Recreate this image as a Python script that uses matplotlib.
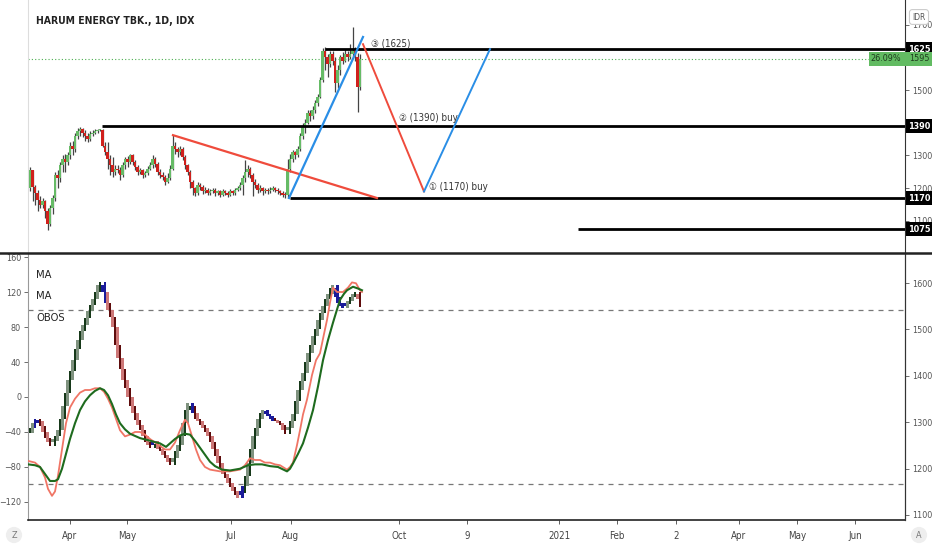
import numpy as np
import matplotlib
matplotlib.use('Agg')
import matplotlib.pyplot as plt
import matplotlib.transforms as mtransforms
from matplotlib.patches import Rectangle
from matplotlib.lines import Line2D

plt.rcParams['font.family'] = ['Liberation Sans Narrow', 'DejaVu Sans']
plt.rcParams['font.stretch'] = 'condensed'

# ---- price candles (bar index 0..132, daily, mid Mar -> mid Sep 2020)
opens = [1200,1255,1205,1185,1165,1150,1160,1130,1090,1140,
         1170,1240,1230,1270,1290,1280,1300,1330,1320,1360,
         1375,1380,1370,1360,1350,1365,1370,1375,1378,1378,
         1330,1310,1290,1270,1250,1260,1255,1240,1270,1290,
         1280,1300,1280,1265,1250,1255,1240,1245,1260,1270,
         1290,1275,1250,1240,1235,1220,1230,1260,1330,1320,
         1310,1320,1295,1270,1250,1220,1200,1185,1210,1205,
         1190,1195,1185,1190,1195,1185,1190,1180,1190,1185,
         1180,1190,1185,1195,1200,1210,1230,1250,1260,1240,
         1220,1210,1195,1200,1190,1195,1190,1195,1200,1195,
         1190,1185,1180,1178,1260,1290,1310,1300,1320,1360,
         1390,1400,1430,1420,1440,1460,1480,1530,1620,1600,
         1580,1610,1590,1520,1560,1600,1590,1610,1600,1610,
         1620,1600,1510]
closes = [1255,1205,1185,1165,1150,1160,1130,1090,1140,1170,
          1240,1230,1270,1290,1280,1300,1330,1320,1360,1375,
          1380,1370,1360,1350,1365,1370,1375,1378,1378,1330,
          1310,1290,1270,1250,1260,1255,1240,1270,1290,1280,
          1300,1280,1265,1250,1255,1240,1245,1260,1270,1290,
          1275,1250,1240,1235,1220,1230,1260,1330,1320,1310,
          1320,1295,1270,1250,1220,1200,1185,1210,1205,1190,
          1195,1185,1190,1195,1185,1190,1180,1190,1185,1180,
          1190,1185,1195,1200,1210,1230,1250,1260,1240,1220,
          1210,1195,1200,1190,1195,1190,1195,1200,1195,1190,
          1185,1180,1178,1260,1290,1310,1300,1320,1360,1390,
          1400,1430,1420,1440,1460,1480,1530,1620,1600,1580,
          1610,1590,1520,1560,1600,1590,1610,1600,1610,1620,
          1600,1510,1595]
highs = [1265,1255,1210,1195,1175,1170,1165,1140,1150,1180,
         1250,1255,1280,1300,1305,1310,1340,1345,1370,1385,
         1388,1385,1378,1370,1375,1378,1380,1382,1382,1380,
         1340,1340,1300,1295,1270,1270,1265,1280,1295,1298,
         1305,1305,1285,1270,1262,1260,1252,1268,1280,1300,
         1295,1280,1258,1248,1240,1245,1270,1362,1340,1325,
         1330,1325,1300,1275,1255,1225,1205,1218,1215,1210,
         1205,1200,1198,1202,1200,1196,1195,1198,1195,1192,
         1198,1195,1202,1208,1220,1240,1286,1272,1265,1245,
         1228,1215,1210,1205,1202,1200,1203,1208,1205,1200,
         1195,1190,1188,1290,1305,1318,1315,1330,1368,1398,
         1410,1438,1440,1450,1468,1488,1540,1628,1630,1610,
         1618,1620,1600,1575,1608,1615,1625,1618,1640,1692,
         1630,1612,1610]
lows = [1190,1160,1150,1130,1140,1140,1110,1073,1085,1120,
        1160,1200,1220,1250,1250,1270,1290,1300,1310,1350,
        1360,1355,1345,1340,1345,1360,1365,1370,1374,1325,
        1300,1260,1240,1235,1240,1245,1225,1235,1260,1265,
        1275,1270,1255,1240,1242,1232,1235,1240,1255,1262,
        1265,1240,1232,1225,1210,1215,1225,1255,1305,1295,
        1300,1285,1260,1240,1200,1180,1175,1180,1195,1182,
        1185,1178,1180,1185,1175,1180,1172,1175,1178,1172,
        1175,1178,1180,1190,1195,1180,1220,1235,1230,1175,
        1200,1185,1188,1180,1185,1182,1185,1190,1188,1182,
        1178,1174,1170,1170,1250,1280,1290,1295,1315,1350,
        1370,1395,1405,1410,1430,1450,1475,1525,1560,1540,
        1570,1575,1495,1505,1545,1580,1585,1590,1595,1600,
        1590,1433,1500]

last_price = 1595
last_change = '26.09%'

# drawn levels and their start bars
levels = [1625, 1390, 1170, 1075]
level_start = [118, 28.8, 104, 219.2]

# trend / projection drawings (bar, price)
red_trend = ([57.2, 138.8], [1362, 1170])
blue_trend = ([103.6, 133.2], [1170, 1662])
red_proj = ([133.2, 157.6], [1640, 1190])
blue_proj = ([157.6, 184.0], [1190, 1625])
notes = ['\u2462 (1625)', '\u2461 (1390) buy', '\u2460 (1170) buy']
note_pos = [(136.4, 1643), (147.6, 1414), (159.6, 1204)]

# ---- oscillator
osc = [-35,-30,-25,-28,-33,-40,-47,-52,-56,-50,
       -45,-38,-25,-10,5,20,30,42,55,65,
       75,82,90,98,105,112,120,128,131,120,
       108,100,92,80,60,45,32,20,10,0,
       -10,-18,-26,-32,-38,-45,-52,-55,-58,-50,
       -55,-60,-62,-66,-70,-74,-78,-70,-62,-55,
       -45,-30,-15,-7,-10,-18,-25,-28,-32,-36,
       -40,-45,-52,-60,-68,-76,-82,-88,-93,-98,
       -103,-108,-112,-115,-110,-102,-90,-75,-60,-45,
       -35,-25,-18,-15,-20,-22,-25,-28,-28,-30,
       -32,-38,-42,-35,-28,-20,-5,8,18,28,
       40,50,60,70,78,88,96,104,112,118,
       125,128,114,108,104,102,106,110,114,118,
       120,112,103]
blue_bars = [2, 3, 29, 30, 49, 65, 84, 85, 94, 95, 96, 97, 122, 123, 124, 125, 126]

ma_fast_x = [-0.8, 2, 4, 6, 7.2, 8.8, 10, 11.2, 12.8, 14.4, 16, 18, 20, 22, 24, 26, 28, 29.6, 31.2, 32.8,
             34.4, 36, 38, 40, 42, 44, 46, 48, 50, 52, 54, 56, 58, 60, 62, 63.2, 64.8, 66.4, 68, 70,
             72, 76, 80, 84, 86, 88, 90, 92, 94, 96, 98, 100, 102.8, 104, 105.2, 106.8, 108, 109.2, 110.8, 112.8,
             114.4, 116, 117.6, 118.8, 120, 121.2, 122.8, 125.2, 127.2, 128.8, 130.4, 132, 132.8]
ma_fast_y = [-73,-75,-80,-92,-105,-113,-108,-90,-60,-30,-12,-2,5,8,8,10,10,6,-2,-12,
             -25,-38,-45,-43,-40,-40,-43,-48,-52,-56,-60,-60,-52,-38,-26,-30,-45,-60,-72,-80,
             -83,-85,-85,-83,-78,-70,-72,-72,-75,-75,-77,-78,-83,-80,-75,-55,-38,-20,-3,25,
             42,50,72,88,108,125,120,120,125,131,130,122,120]
ma_slow_x = [-0.8, 2, 4, 6, 8, 10, 11.2, 12.8, 14.4, 16, 18, 20, 22, 24, 26, 28, 29.6, 31.2, 32.8, 34.4,
             36, 38, 40, 44, 48, 52, 54.4, 56, 58, 60, 62, 64, 66, 68, 70, 72, 74, 76.8, 80, 84,
             87.2, 90, 92.8, 96, 99.2, 102.8, 104, 105.2, 107.2, 109.2, 111.2, 113.2, 115.2, 117.2, 119.2, 121.2,
             122.8, 124, 125.6, 126.8, 129.2, 131.2, 132.8]
ma_slow_y = [-77,-78,-80,-88,-96,-96,-94,-82,-65,-48,-30,-15,-5,2,7,10,8,2,-8,-20,
             -30,-37,-42,-47,-50,-53,-57,-53,-48,-44,-42,-43,-50,-58,-66,-74,-79,-83,-84,-82,
             -78,-77,-77,-79,-80,-85,-82,-76,-65,-53,-35,-15,12,42,65,85,
             100,111,118,122,126,124,122]
obos = [100, -100]

# ---- axis labels
price_ticks = [1100, 1200, 1300, 1500, 1700]  # 1400/1600 sit under the level boxes
tick_pos = [16, 38.8, 80.4, 104.4, 147.6, 174.8, 211.6, 234.8, 258.4, 283.6, 306.8, 330]
tick_lab = ['Apr', 'May', 'Jul', 'Aug', 'Oct', '9', '2021', 'Feb', '2', 'Apr', 'May', 'Jun']

W, H = 932, 550
XMIN, XMAX = -0.8, 350


def rect(x0, y0, x1, y1):
    return [x0 / W, 1 - y1 / H, (x1 - x0) / W, (y1 - y0) / H]


fig = plt.figure(figsize=(W / 100, H / 100), dpi=100)
ax = fig.add_axes(rect(28, 0, 905, 253))
ax2 = fig.add_axes(rect(28, 253, 905, 520))

GREEN = '#66bb66'
RED = '#d0201c'

# ---- top panel
ax.set_xlim(XMIN, XMAX)
ax.set_ylim(1002, 1775)
x = np.arange(len(closes))
o = np.array(opens); c = np.array(closes)
up = c >= o
ax.vlines(x, lows, highs, color='#444444', lw=0.9, zorder=2)
ax.bar(x, np.maximum(np.abs(c - o), 4), bottom=np.minimum(o, c), width=0.85,
       color=np.where(up, GREEN, RED), lw=0, zorder=3)

ax.axhline(last_price, color='#4caf50', ls=(0, (1, 2)), lw=0.8, zorder=1)
for lvl, xs in zip(levels, level_start):
    ax.hlines(lvl, xs, XMAX, color='black', lw=2.0, zorder=4)
ax.plot(*red_trend, color='#ef4b3c', lw=1.6, zorder=5)
ax.plot(*blue_trend, color='#2a8ee6', lw=1.6, zorder=5)
ax.plot(*red_proj, color='#ef4b3c', lw=1.4, zorder=5)
ax.plot(*blue_proj, color='#2a8ee6', lw=1.4, zorder=5)
for t, (tx, ty) in zip(notes, note_pos):
    ax.text(tx, ty, t, fontsize=7, color='#333333', va='center', ha='left', zorder=6)

ax.yaxis.tick_right()
ax.set_yticks(price_ticks)
ax.tick_params(axis='y', labelsize=6.5, colors='#555555', length=3, width=0.6, pad=2)
ax.set_xticks([])
for s in ['top', 'bottom']:
    ax.spines[s].set_visible(False)
ax.spines['left'].set_color('#dddddd')
ax.spines['right'].set_color('#333333')

bt = mtransforms.blended_transform_factory(ax.transAxes, ax.transData)
px_y = 773 / 253.0  # price units per pixel
bw = 27 / 877.0
for lvl in levels:
    ax.add_patch(Rectangle((1.0012, lvl - 7 * px_y), bw, 14 * px_y, transform=bt,
                           facecolor='black', edgecolor='none', clip_on=False, zorder=10))
    ax.text(1.0012 + bw / 2, lvl, str(lvl), transform=bt, ha='center', va='center',
            color='white', fontsize=6.5, fontweight='bold', clip_on=False, zorder=11)
ax.add_patch(Rectangle(((869 - 28) / 877.0, last_price - 7 * px_y), 63 / 877.0, 14 * px_y,
                       transform=bt, facecolor='#62bb62', edgecolor='none', clip_on=False, zorder=10))
ax.text((886 - 28) / 877.0, last_price, last_change, transform=bt, ha='center', va='center',
        color='#1e3d1e', fontsize=6.5, clip_on=False, zorder=11)
ax.text((919 - 28) / 877.0, last_price, str(last_price), transform=bt, ha='center', va='center',
        color='#1e3d1e', fontsize=6.5, clip_on=False, zorder=11)

fig.text(36 / W, 1 - 21 / H, 'HARUM ENERGY TBK., 1D, IDX', fontsize=7.5, fontweight='bold',
         color='#222222', va='center', ha='left')
fig.text(919 / W, 1 - 17 / H, 'IDR', fontsize=6, color='#555555', ha='center', va='center',
         bbox=dict(boxstyle='round,pad=0.35', fc='white', ec='#cccccc', lw=0.8))

# ---- bottom panel
ax2.set_xlim(XMIN, XMAX)
ax2.set_ylim(-140.6, 164.6)
for i, v in enumerate(osc):
    prev = osc[i - 2] if i >= 2 else osc[0] - 6
    if i in blue_bars:
        col = '#1b1b9a'
    elif v >= prev:
        col = '#17391a' if i % 2 == 0 else '#7f927f'
    else:
        col = '#5e0c0c' if i % 2 == 0 else '#cd7777'
    ax2.bar(i, max(abs(v - prev), 4), bottom=min(v, prev), width=0.9, color=col, lw=0, zorder=3)
ax2.plot(ma_fast_x, ma_fast_y, color='#f07565', lw=1.3, zorder=4)
ax2.plot(ma_slow_x, ma_slow_y, color='#1e6b1e', lw=1.5, zorder=5)
for lv in obos:
    ax2.axhline(lv, color='#777777', ls=(0, (4, 4)), lw=0.9, zorder=1)

ax2.set_yticks([-120, -80, -40, 0, 40, 80, 120, 160])
ax2.tick_params(axis='y', labelsize=6.5, colors='#555555', length=3, width=0.6, pad=2)
ax2.set_xticks(tick_pos)
ax2.set_xticklabels(tick_lab)
ax2.tick_params(axis='x', labelsize=7, colors='#444444', length=3, width=0.6, pad=5)
ax2.spines['top'].set_visible(False)
ax2.spines['left'].set_color('#999999')
ax2.spines['right'].set_color('#333333')
ax2.spines['bottom'].set_color('#222222')
ax2.spines['bottom'].set_linewidth(1.2)

ax2r = ax2.twinx()
ax2r.set_ylim(1089.2, 1664.7)
ax2r.set_yticks([1100, 1200, 1300, 1400, 1500, 1600])
ax2r.tick_params(axis='y', labelsize=6.5, colors='#555555', length=3, width=0.6, pad=2)
for s in ['top', 'left', 'bottom']:
    ax2r.spines[s].set_visible(False)
ax2r.spines['right'].set_color('#333333')

for t, yy in zip(['MA', 'MA', 'OBOS'], [275, 296, 318]):
    fig.text(36 / W, 1 - yy / H, t, fontsize=8, color='#222222', va='center', ha='left')

fig.add_artist(Line2D([0, 1], [1 - 253 / H] * 2, color='#222222', lw=1.8))
fig.text(14 / W, 1 - 535 / H, 'Z', fontsize=6.5, color='#777777', ha='center', va='center',
         bbox=dict(boxstyle='circle,pad=0.4', fc='#eeeeee', ec='none'))
fig.text(919 / W, 1 - 535 / H, 'A', fontsize=6.5, color='#777777', ha='center', va='center',
         bbox=dict(boxstyle='circle,pad=0.4', fc='#eeeeee', ec='none'))

fig.savefig('out.png', dpi=100)
